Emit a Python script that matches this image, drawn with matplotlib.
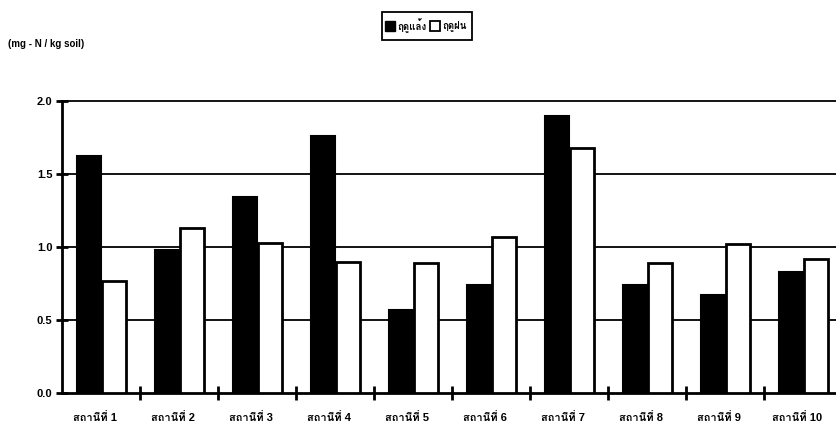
import matplotlib
matplotlib.use("Agg")
import matplotlib.pyplot as plt
from matplotlib import font_manager
from matplotlib.ft2font import FT2Font
from matplotlib.patches import Rectangle
import numpy as np

stations = ["สถานีที่ 1", "สถานีที่ 2", "สถานีที่ 3", "สถานีที่ 4", "สถานีที่ 5",
            "สถานีที่ 6", "สถานีที่ 7", "สถานีที่ 8", "สถานีที่ 9", "สถานีที่ 10"]
dry = [1.62, 0.98, 1.34, 1.76, 0.57, 0.74, 1.90, 0.74, 0.67, 0.83]
rainy = [0.77, 1.13, 1.03, 0.90, 0.89, 1.07, 1.68, 0.89, 1.02, 0.92]
series_names = ["ฤดูแล้ง", "ฤดูฝน"]
yticks = [0.0, 0.5, 1.0, 1.5, 2.0]
unit_label = "(mg - N / kg soil)"

# find a font with Thai glyphs
thai_family = None
for f in font_manager.fontManager.ttflist:
    try:
        ft = FT2Font(f.fname)
        if ord("ก") in ft.get_charmap():
            thai_family = f.name
            break
    except Exception:
        pass
families = ["Liberation Sans"]
if thai_family:
    families.append(thai_family)
families.append("DejaVu Sans")
plt.rcParams["font.family"] = families

fig = plt.figure(figsize=(8.37, 4.43), dpi=100)
ax = fig.add_axes([62/837, 50/443, 780/837, 292/443])

x = np.arange(len(stations))
w = 0.31
ax.bar(x - 0.15, dry, width=w, color="black", edgecolor="black", linewidth=1.5, zorder=3)
ax.bar(x + 0.17, rainy, width=w, color="white", edgecolor="black", linewidth=2, zorder=3)

for v in yticks[1:]:
    ax.axhline(v, color="black", linewidth=1.3, zorder=1, clip_on=False)

ax.set_xlim(-0.5, len(stations) - 0.5)
ax.set_ylim(0, 2.0)
for s in ["top", "right"]:
    ax.spines[s].set_visible(False)
ax.spines["left"].set_linewidth(2)
ax.spines["bottom"].set_linewidth(2)

ax.set_yticks(yticks)
ax.set_yticklabels([f"{v:.1f}" for v in yticks], fontsize=8, fontweight="bold")
ax.tick_params(axis="y", direction="inout", length=8, width=2, pad=3)

ax.set_xticks(np.arange(len(stations) - 1) + 0.5)
ax.set_xticklabels([])
ax.tick_params(axis="x", which="major", direction="inout", length=10, width=2)
ax.set_xticks(x - 0.08, minor=True)
ax.set_xticklabels(stations, minor=True, fontsize=8, fontweight="bold")
ax.tick_params(axis="x", which="minor", length=0, pad=14)

fig.text(8/837, 1 - 44/443, unit_label, fontsize=7, fontweight="bold", va="center", ha="left")

# legend box
lx0, lx1, ly0, ly1 = 382/837, 472/837, 1 - 40/443, 1 - 12/443
fig.patches.append(Rectangle((lx0, ly0), lx1 - lx0, ly1 - ly0, transform=fig.transFigure,
                             facecolor="white", edgecolor="black", linewidth=1.3))
sq = 10
cy = 1 - 26/443
fig.patches.append(Rectangle((385/837, cy - sq/2/443), sq/837, sq/443, transform=fig.transFigure,
                             facecolor="black", edgecolor="black", linewidth=1))
fig.text(397/837, cy, series_names[0], fontsize=7, fontweight="bold", va="center", ha="left")
fig.patches.append(Rectangle((430/837, cy - sq/2/443), sq/837, sq/443, transform=fig.transFigure,
                             facecolor="white", edgecolor="black", linewidth=1.3))
fig.text(442/837, cy, series_names[1], fontsize=7, fontweight="bold", va="center", ha="left")

fig.savefig("out.png", dpi=100)
